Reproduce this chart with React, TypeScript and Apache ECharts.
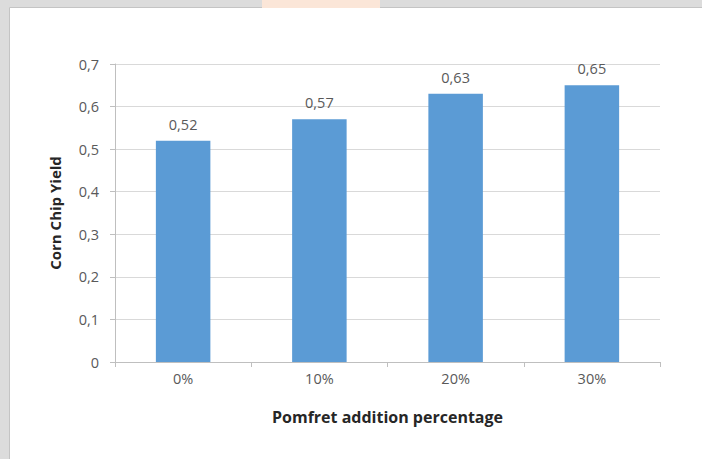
import React, { useEffect, useRef } from "react";
import * as echarts from "echarts";

const categories = ["0%", "10%", "20%", "30%"];
const yieldValues = [0.52, 0.57, 0.63, 0.65];
const xAxisTitle = "Pomfret addition percentage";
const yAxisTitle = "Corn Chip Yield";

export default function App() {
  const ref = useRef<HTMLDivElement>(null);
  useEffect(() => {
    if (!ref.current) return;
    const chart = echarts.init(ref.current, undefined, { renderer: "svg" });
    const font = "'Open Sans', sans-serif";
    chart.setOption({
      animation: false,
      backgroundColor: "#dcdcdc",
      graphic: [
        { type: "rect", shape: { x: 262, y: 0, width: 118, height: 8 }, style: { fill: "#fbe6d8" }, silent: true },
        { type: "rect", shape: { x: 9.5, y: 7.5, width: 720, height: 470 }, style: { fill: "#ffffff", stroke: "#c4c4c4", lineWidth: 1 }, silent: true, z: -1 },
      ],
      grid: { left: 115, right: 42, top: 64, bottom: 97, containLabel: false },
      xAxis: {
        type: "category",
        data: categories,
        name: xAxisTitle,
        nameLocation: "middle",
        nameGap: 47,
        nameTextStyle: { fontFamily: font, fontSize: 16, fontWeight: "bold", color: "#262626" },
        axisLine: { lineStyle: { color: "#bfbfbf" } },
        axisTick: { show: true, length: 5, lineStyle: { color: "#bfbfbf" } },
        axisLabel: { fontFamily: font, fontSize: 14.5, color: "#595959", margin: 9 },
      },
      yAxis: {
        type: "value",
        min: 0,
        max: 0.7,
        interval: 0.1,
        name: yAxisTitle,
        nameLocation: "middle",
        nameGap: 53,
        nameTextStyle: { fontFamily: font, fontSize: 15, fontWeight: "bold", color: "#262626" },
        axisLine: { show: true, lineStyle: { color: "#bfbfbf" } },
        axisTick: { show: true, length: 5, lineStyle: { color: "#bfbfbf" } },
        splitLine: { lineStyle: { color: "#d9d9d9" } },
        axisLabel: {
          fontFamily: font,
          fontSize: 14.5,
          color: "#595959",
          margin: 16,
          formatter: (v: number) => (Math.round(v * 10) / 10).toString().replace(".", ","),
        },
      },
      series: [
        {
          type: "bar",
          data: yieldValues,
          barCategoryGap: "60%",
          itemStyle: { color: "#5b9bd5" },
          label: {
            show: true,
            position: "top",
            distance: 9,
            fontFamily: font,
            fontSize: 14.5,
            color: "#595959",
            formatter: (p: any) => String(p.value).replace(".", ","),
          },
        },
      ],
    });
    return () => chart.dispose();
  }, []);
  return <div ref={ref} style={{ position: "fixed", left: 0, top: 0, width: 702, height: 459 }} />;
}
